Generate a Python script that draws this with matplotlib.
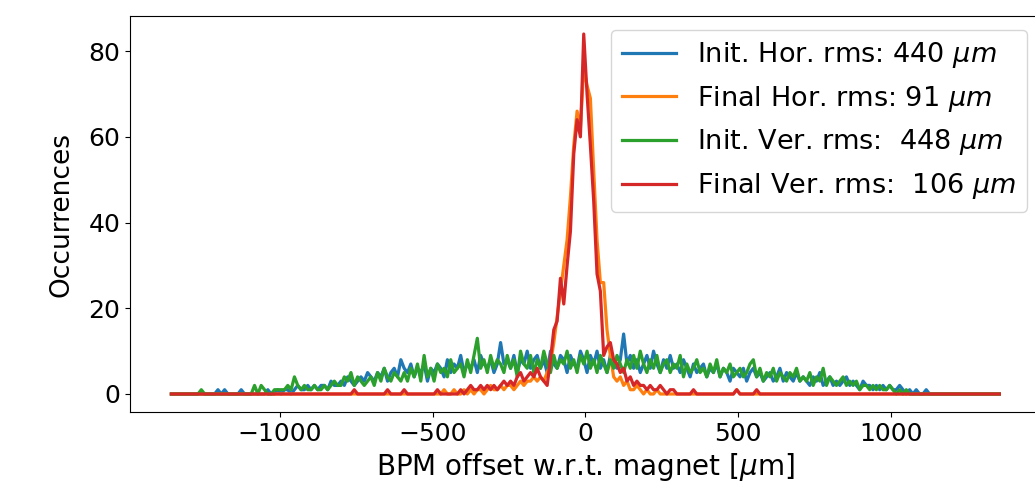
import numpy as np
import matplotlib
matplotlib.use("Agg")
import matplotlib.pyplot as plt

# Histogram of BPM offsets: 250 bins spanning -1360 .. 1360 um
bin_edges = np.linspace(-1360, 1360, 251)
bin_centers = 0.5 * (bin_edges[:-1] + bin_edges[1:])

init_hor = [
    0, 0, 0, 0, 0, 0, 0, 0, 0, 0,
    0, 0, 0, 0, 1, 0, 1, 0, 0, 0,
    0, 1, 0, 0, 0, 0, 0, 0, 0, 1,
    0, 0, 1, 0, 1, 1, 0, 1, 2, 1,
    1, 2, 1, 2, 1, 2, 2, 1, 3, 2,
    2, 3, 2, 4, 3, 2, 3, 4, 3, 5,
    4, 3, 5, 4, 6, 3, 5, 6, 4, 8,
    6, 5, 7, 4, 6, 5, 7, 3, 6, 5,
    7, 6, 4, 8, 5, 7, 6, 9, 5, 7,
    6, 8, 5, 9, 7, 6, 8, 5, 7, 12,
    7, 8, 6, 9, 5, 8, 7, 10, 6, 8,
    9, 6, 8, 5, 10, 7, 6, 9, 8, 5,
    9, 7, 6, 10, 8, 5, 9, 7, 10, 6,
    8, 5, 9, 7, 6, 8, 14, 7, 9, 6,
    8, 5, 7, 9, 6, 10, 7, 5, 8, 6,
    9, 6, 7, 5, 8, 6, 4, 7, 5, 6,
    7, 4, 6, 5, 7, 4, 6, 5, 3, 6,
    5, 4, 6, 3, 5, 6, 4, 5, 3, 4,
    5, 3, 4, 6, 3, 5, 4, 3, 5, 3,
    4, 3, 2, 4, 3, 5, 2, 3, 4, 2,
    3, 2, 3, 4, 2, 3, 2, 1, 3, 2,
    2, 1, 2, 1, 2, 1, 2, 1, 1, 2,
    1, 0, 1, 0, 1, 0, 0, 1, 0, 0,
    0, 0, 0, 0, 0, 0, 0, 0, 0, 0,
    0, 0, 0, 0, 0, 0, 0, 0, 0, 0,
]

final_hor = [
    0, 0, 0, 0, 0, 0, 0, 0, 0, 0,
    0, 0, 0, 0, 0, 0, 0, 0, 0, 0,
    0, 0, 0, 0, 0, 0, 0, 0, 0, 0,
    0, 0, 0, 0, 0, 0, 0, 0, 0, 0,
    0, 0, 0, 0, 0, 0, 0, 0, 0, 0,
    0, 0, 0, 0, 0, 0, 0, 0, 0, 0,
    0, 0, 0, 0, 0, 0, 0, 0, 0, 0,
    0, 0, 0, 0, 0, 0, 0, 0, 0, 0,
    0, 0, 1, 0, 0, 1, 0, 0, 1, 0,
    1, 0, 1, 1, 0, 1, 2, 1, 1, 2,
    1, 2, 2, 1, 2, 3, 2, 3, 3, 4,
    3, 4, 3, 5, 7, 12, 18, 24, 30, 36,
    46, 58, 66, 62, 76, 72, 69, 52, 36, 26,
    26, 15, 9, 4, 3, 4, 2, 3, 1, 1,
    2, 1, 0, 1, 0, 0, 1, 0, 0, 0,
    0, 0, 0, 0, 0, 0, 0, 0, 0, 0,
    0, 0, 0, 0, 0, 0, 0, 0, 0, 0,
    1, 0, 0, 0, 0, 0, 0, 0, 0, 0,
    0, 0, 0, 0, 0, 0, 0, 0, 0, 0,
    0, 0, 0, 0, 0, 0, 0, 0, 0, 0,
    0, 0, 0, 0, 0, 0, 0, 0, 0, 0,
    0, 0, 0, 0, 0, 0, 0, 0, 0, 0,
    0, 0, 0, 0, 0, 0, 0, 0, 0, 0,
    0, 0, 0, 0, 0, 0, 0, 0, 0, 0,
    0, 0, 0, 0, 0, 0, 0, 0, 0, 0,
]

init_ver = [
    0, 0, 0, 0, 0, 0, 0, 0, 0, 1,
    0, 0, 0, 0, 0, 0, 0, 0, 0, 0,
    0, 0, 0, 0, 0, 2, 0, 2, 1, 0,
    0, 1, 1, 1, 1, 2, 1, 4, 2, 1,
    2, 1, 1, 2, 1, 1, 2, 1, 2, 3,
    2, 2, 4, 3, 5, 2, 4, 3, 2, 3,
    4, 2, 5, 3, 6, 4, 3, 5, 4, 3,
    5, 3, 6, 4, 7, 3, 9, 4, 6, 3,
    7, 5, 6, 4, 8, 5, 6, 7, 4, 8,
    5, 9, 13, 6, 8, 5, 9, 6, 8, 7,
    5, 9, 6, 8, 4, 10, 7, 6, 9, 5,
    8, 6, 10, 7, 5, 9, 6, 8, 7, 10,
    6, 8, 5, 9, 7, 10, 6, 8, 5, 9,
    7, 5, 8, 6, 9, 7, 5, 8, 6, 9,
    6, 10, 7, 5, 8, 6, 9, 5, 7, 8,
    5, 7, 6, 9, 4, 7, 5, 6, 8, 5,
    6, 4, 7, 5, 8, 4, 6, 5, 7, 4,
    5, 6, 4, 5, 7, 8, 4, 6, 3, 5,
    4, 6, 3, 5, 4, 3, 5, 4, 6, 3,
    4, 3, 5, 2, 4, 3, 6, 2, 4, 3,
    2, 3, 4, 2, 3, 2, 3, 1, 2, 2,
    1, 2, 1, 2, 1, 1, 2, 1, 0, 1,
    0, 1, 0, 0, 0, 0, 0, 0, 0, 0,
    0, 0, 0, 0, 0, 0, 0, 0, 0, 0,
    0, 0, 0, 0, 0, 0, 0, 0, 0, 0,
]

final_ver = [
    0, 0, 0, 0, 0, 0, 0, 0, 0, 0,
    0, 0, 0, 0, 0, 0, 0, 0, 0, 0,
    0, 0, 0, 0, 0, 0, 0, 0, 0, 0,
    0, 0, 0, 0, 0, 0, 0, 0, 0, 0,
    0, 0, 0, 0, 0, 0, 0, 0, 0, 0,
    0, 0, 0, 0, 0, 1, 0, 0, 0, 0,
    0, 0, 0, 0, 0, 1, 0, 0, 0, 0,
    1, 0, 0, 0, 0, 0, 0, 0, 0, 0,
    1, 0, 0, 0, 0, 0, 0, 1, 0, 1,
    2, 1, 1, 2, 1, 2, 1, 2, 1, 2,
    3, 2, 3, 2, 4, 5, 3, 4, 5, 4,
    6, 4, 3, 2, 8, 15, 17, 27, 21, 30,
    38, 56, 64, 60, 84, 70, 58, 45, 28, 24,
    9, 11, 12, 8, 7, 5, 6, 3, 4, 2,
    3, 2, 2, 1, 2, 1, 1, 2, 1, 0,
    1, 1, 0, 0, 0, 0, 0, 1, 0, 0,
    0, 0, 0, 0, 0, 0, 0, 0, 0, 0,
    1, 0, 0, 0, 0, 0, 1, 0, 0, 0,
    0, 0, 0, 0, 0, 0, 0, 0, 0, 0,
    0, 0, 0, 0, 0, 0, 0, 0, 0, 0,
    0, 0, 0, 0, 0, 0, 0, 0, 0, 0,
    0, 0, 0, 0, 0, 0, 0, 0, 0, 0,
    0, 0, 0, 0, 0, 0, 0, 0, 0, 0,
    0, 0, 0, 0, 0, 0, 0, 0, 0, 0,
    0, 0, 0, 0, 0, 0, 0, 0, 0, 0,
]

labels = [
    r"Init. Hor. rms: 440 $\mu m$",
    r"Final Hor. rms: 91 $\mu m$",
    r"Init. Ver. rms:  448 $\mu m$",
    r"Final Ver. rms:  106 $\mu m$",
]
colors = ["#1f77b4", "#ff7f0e", "#2ca02c", "#d62728"]

plt.rcParams["font.family"] = ["DejaVu Sans"]
plt.rcParams["font.size"] = 18

fig = plt.figure(figsize=(10.35, 4.94), dpi=100)
ax = fig.add_axes([0.1256, 0.166, 0.880, 0.8016])

for series, label, color in zip([init_hor, final_hor, init_ver, final_ver], labels, colors):
    ax.plot(bin_centers, series, color=color, lw=2.3, label=label)

ax.set_xticks([-1000, -500, 0, 500, 1000])
ax.set_yticks([0, 20, 40, 60, 80])
ax.tick_params(labelsize=18)
ax.set_xlabel(r"BPM offset w.r.t. magnet [$\mu$m]", fontsize=20)
ax.set_ylabel("Occurrences", fontsize=19, labelpad=10)
ax.legend(loc="upper right", fontsize=19.5, handlelength=2.0)

fig.savefig("out.png", dpi=100)
